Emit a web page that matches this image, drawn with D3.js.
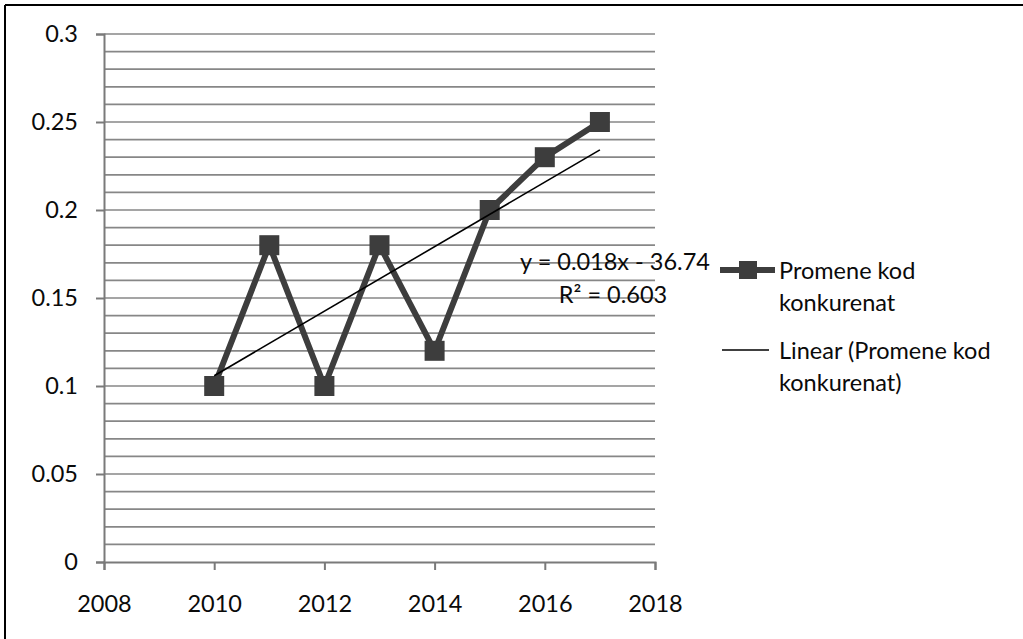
<!DOCTYPE html>
<html><head><meta charset="utf-8">
<script src="https://cdn.jsdelivr.net/npm/d3@7"></script>
<style>body{margin:0;background:#fff}svg{display:block}text{font-family:Lato,"Open Sans",sans-serif;fill:#0a0a0a}</style>
</head><body>
<svg id="c" width="1023" height="639"></svg>
<script>
const years = [2010, 2011, 2012, 2013, 2014, 2015, 2016, 2017];
const values = [0.10, 0.18, 0.10, 0.18, 0.12, 0.20, 0.23, 0.25];
const xTicks = [2008, 2010, 2012, 2014, 2016, 2018];
const yTicks = [0, 0.05, 0.1, 0.15, 0.2, 0.25, 0.3];
const seriesName = ["Promene kod", "konkurenat"];
const trendName = ["Linear (Promene kod", "konkurenat)"];
const eqLines = ["y = 0.018x - 36.74", "R² = 0.603"];

const FS = 23.5;
const svg = d3.select("#c");
const x = d3.scaleLinear().domain([2008, 2018]).range([104, 655]);
const y = d3.scaleLinear().domain([0, 0.3]).range([562, 34]);

// border
svg.append("line").attr("x1",5).attr("x2",5).attr("y1",5).attr("y2",639).attr("stroke","#000").attr("stroke-width",2);
svg.append("line").attr("x1",5).attr("x2",1023).attr("y1",5).attr("y2",5).attr("stroke","#000").attr("stroke-width",2);

// minor + major gridlines every 0.01
const grid = d3.range(1, 31).map(i => i / 100);
svg.append("g").selectAll("line").data(grid).join("line")
  .attr("x1", x(2008)).attr("x2", x(2018))
  .attr("y1", d => y(d)).attr("y2", d => y(d))
  .attr("stroke", "#878787").attr("stroke-width", 1.7);

// axes
const yAxis = d3.axisLeft(y).tickValues(yTicks).tickSize(8).tickPadding(18).tickFormat(d => d === 0 ? "0" : String(+d.toFixed(2)));
const gy = svg.append("g").attr("transform", `translate(${x(2008)},0)`).call(yAxis);
const xAxis = d3.axisBottom(x).tickValues(xTicks).tickSize(8).tickPadding(25).tickFormat(d3.format("d"));
const gx = svg.append("g").attr("transform", `translate(0,${y(0)})`).call(xAxis);
[gx, gy].forEach(g => {
  g.select(".domain").attr("stroke", "#7a7a7a").attr("stroke-width", 2);
  g.selectAll(".tick line").attr("stroke", "#7a7a7a").attr("stroke-width", 2);
  g.selectAll(".tick text").attr("font-size", FS).attr("fill", "#0a0a0a").style("font-family", "Lato, 'Open Sans', sans-serif");
});

// series line
const line = d3.line().x((d, i) => x(years[i])).y(d => y(d));
svg.append("path").datum(values).attr("d", line)
  .attr("fill", "none").attr("stroke", "#3d3d3d").attr("stroke-width", 6).attr("stroke-linejoin", "miter");
svg.append("g").selectAll("rect").data(values).join("rect")
  .attr("x", (d, i) => x(years[i]) - 10).attr("y", d => y(d) - 10)
  .attr("width", 20).attr("height", 20).attr("fill", "#3d3d3d");

// linear trend (least squares)
const mx = d3.mean(years), my = d3.mean(values);
const slope = d3.sum(years, (v, i) => (v - mx) * (values[i] - my)) / d3.sum(years, v => (v - mx) ** 2);
const icpt = my - slope * mx;
const x0 = years[0], x1 = years[years.length - 1];
svg.append("line").attr("x1", x(x0)).attr("y1", y(icpt + slope * x0))
  .attr("x2", x(x1)).attr("y2", y(icpt + slope * x1))
  .attr("stroke", "#000").attr("stroke-width", 1.6);

// equation
svg.append("text").attr("x", 615).attr("y", 270).attr("text-anchor", "middle").attr("font-size", FS).text(eqLines[0]);
svg.append("text").attr("x", 613).attr("y", 303).attr("text-anchor", "middle").attr("font-size", FS).text(eqLines[1]);

// legend
svg.append("line").attr("x1", 720).attr("x2", 775).attr("y1", 270).attr("y2", 270).attr("stroke", "#3d3d3d").attr("stroke-width", 6);
svg.append("rect").attr("x", 739).attr("y", 261).attr("width", 18).attr("height", 18).attr("fill", "#3d3d3d");
seriesName.forEach((t, i) => svg.append("text").attr("x", 779).attr("y", 279 + i * 32).attr("font-size", FS).text(t));
svg.append("line").attr("x1", 722).attr("x2", 769).attr("y1", 350).attr("y2", 350).attr("stroke", "#000").attr("stroke-width", 1.6);
trendName.forEach((t, i) => svg.append("text").attr("x", 779).attr("y", 359 + i * 32).attr("font-size", FS).text(t));
</script>
</body></html>
